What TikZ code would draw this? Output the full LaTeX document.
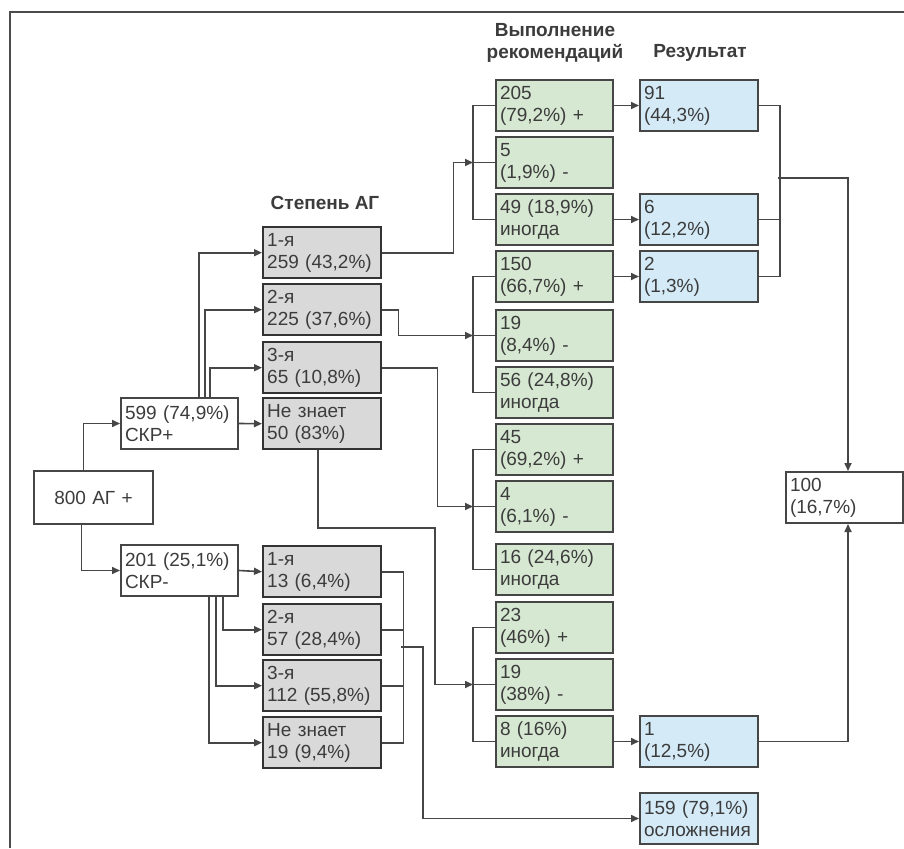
\documentclass[tikz,border=0pt]{standalone}
\usepackage{fontspec}
\setmainfont{Liberation Sans}
\usetikzlibrary{arrows.meta}
\definecolor{gfill}{RGB}{217,217,217}
\definecolor{grfill}{RGB}{214,232,210}
\definecolor{blfill}{RGB}{212,234,247}
\definecolor{ink}{RGB}{60,60,60}
\definecolor{lin}{RGB}{70,70,70}
\begin{document}
\begin{tikzpicture}[x=1pt,y=-1pt,
  box/.style={draw=lin, line width=2pt, anchor=north west, minimum width=118pt, minimum height=51pt,
    text width=110pt, inner xsep=4pt, inner ysep=0pt, align=left,
    font=\fontsize{19}{22}\selectfont, text=ink},
  wbox/.style={box, fill=white},
  gbox/.style={box, fill=gfill, line width=2.4pt, draw=black!80},
  rbox/.style={box, fill=grfill, minimum width=117pt, text width=109pt},
  bbox/.style={box, fill=blfill},
  ttl/.style={font=\fontsize{19}{22}\selectfont\bfseries, text=ink, align=center, inner sep=0pt},
  con/.style={draw=lin, line width=1.6pt},
  arr/.style={con, -{Triangle[length=8pt,width=7pt]}}]
\useasboundingbox (0,0) rectangle (904,848);
\fill[white] (0,0) rectangle (904,848);
\draw[line width=1.8pt, black!70] (10,848) -- (10,12) -- (904,12);

% titles
\node[ttl] (tA) at (325,203) {Степень АГ};
\node[ttl] (tB) at (555,43) {Выполнение\\рекомендаций};
\node[ttl] (tC) at (700,53) {Результат};

% left
\node[wbox, minimum width=119pt, minimum height=53pt, text width=111pt, align=center] (root) at (33,470) {800 АГ +};
\node[wbox, minimum width=117pt, text width=109pt] (s1) at (120,397) {599 (74,9\%)\\СКР+};
\node[wbox, minimum width=117pt, text width=109pt] (s2) at (120,544) {201 (25,1\%)\\СКР-};

% gray
\node[gbox] (g1) at (262,226) {1-я\\259 (43,2\%)};
\node[gbox] (g2) at (262,283) {2-я\\225 (37,6\%)};
\node[gbox] (g3) at (262,341) {3-я\\65 (10,8\%)};
\node[gbox] (g4) at (262,397) {Не знает\\50 (83\%)};
\node[gbox] (h1) at (262,545) {1-я\\13 (6,4\%)};
\node[gbox] (h2) at (262,603) {2-я\\57 (28,4\%)};
\node[gbox] (h3) at (262,659) {3-я\\112 (55,8\%)};
\node[gbox] (h4) at (262,716) {Не знает\\19 (9,4\%)};

% green
\node[rbox] (r1) at (495,79) {205\\(79,2\%) +};
\node[rbox] (r2) at (495,136) {5\\(1,9\%) -};
\node[rbox] (r3) at (495,193) {49 (18,9\%)\\иногда};
\node[rbox] (r4) at (495,250) {150\\(66,7\%) +};
\node[rbox] (r5) at (495,309) {19\\(8,4\%) -};
\node[rbox] (r6) at (495,366) {56 (24,8\%)\\иногда};
\node[rbox] (r7) at (495,423) {45\\(69,2\%) +};
\node[rbox] (r8) at (495,480) {4\\(6,1\%) -};
\node[rbox] (r9) at (495,543) {16 (24,6\%)\\иногда};
\node[rbox] (r10) at (495,601) {23\\(46\%) +};
\node[rbox] (r11) at (495,658) {19\\(38\%) -};
\node[rbox] (r12) at (495,715) {8 (16\%)\\иногда};

% blue
\node[bbox] (b1) at (639,79) {91\\(44,3\%)};
\node[bbox] (b2) at (639,193) {6\\(12,2\%)};
\node[bbox] (b3) at (639,250) {2\\(1,3\%)};
\node[bbox] (b4) at (639,715) {1\\(12,5\%)};
\node[bbox] (b5) at (639,792) {159 (79,1\%)\\осложнения};

% result
\node[wbox, minimum width=117pt, text width=109pt] (t) at (785,471) {100\\(16,7\%)};

% connectors: left
\draw[arr] ([xshift=-10pt]root.north) |- (s1.west);
\draw[arr] ([xshift=-12pt]root.south) |- (s2.west);
\draw[arr] ([xshift=19.5pt]s1.north) |- (g1.west);
\draw[arr] ([xshift=25.5pt]s1.north) |- (g2.west);
\draw[arr] ([xshift=30.5pt]s1.north) |- (g3.west);
\draw[arr] (s1.east) -- (g4.west);
\draw[arr] (s2.east) -- (h1.west);
\draw[arr] ([xshift=43.5pt]s2.south) |- (h2.west);
\draw[arr] ([xshift=36.5pt]s2.south) |- (h3.west);
\draw[arr] ([xshift=29.5pt]s2.south) |- (h4.west);

% brackets at green
\draw[con] (r1.west) -- ++(-22,0) |- (r3.west);
\draw[con] (r2.west) -- ++(-22,0);
\draw[con] (r4.west) -- ++(-22,0) |- (r6.west);
\draw[con] (r5.west) -- ++(-22,0);
\draw[con] (r7.west) -- ++(-22,0) |- (r9.west);
\draw[con] (r8.west) -- ++(-22,0);
\draw[con] (r10.west) -- ++(-22,0) |- (r12.west);
\draw[con] (r11.west) -- ++(-22,0);

% gray -> green
\draw[arr] (g1.east) -- ++(71,0) |- ([xshift=-22pt]r2.west);
\draw[arr] (g2.east) -- ++(16,0) |- ([xshift=-22pt]r5.west);
\draw[arr] (g3.east) -- ++(55,0) |- ([xshift=-22pt]r8.west);
\coordinate (k4) at (435,528);
\draw[arr] ([xshift=-4pt]g4.south) |- (k4) |- ([xshift=-22pt]r11.west);

% lower gray bracket -> complications
\draw[con] (h1.east) -- ++(21,0) |- (h4.east);
\draw[con] (h2.east) -- ++(21,0);
\draw[con] (h3.east) -- ++(21,0);
\coordinate (q1) at (401,647);
\draw[arr] (q1) -- ++(22,0) |- (b5.west);

% green -> blue
\draw[arr] (r1.east) -- (b1.west);
\draw[arr] (r3.east) -- (b2.west);
\draw[arr] (r4.east) -- (b3.west);
\draw[arr] (r12.east) -- (b4.west);

% blue -> result
\draw[con] (b1.east) -- ++(21,0) |- (b3.east);
\draw[con] (b2.east) -- ++(21,0);
\coordinate (q2) at (778,178);
\draw[arr] (q2) -| ([xshift=3.5pt]t.north);
\draw[arr] (b4.east) -| ([xshift=3.5pt]t.south);
\end{tikzpicture}
\end{document}
